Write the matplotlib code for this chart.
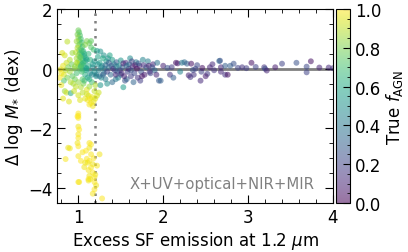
import numpy as np
import matplotlib
matplotlib.use("Agg")
import matplotlib.pyplot as plt
from matplotlib.ticker import MultipleLocator

# ---- data ----
tail_x = [1.00,1.00,1.00,1.00,1.01,1.00,1.00,0.99,1.00,1.00,0.88,0.90,0.85,1.03,1.07,1.13,1.15,1.13,1.15,1.13,1.17,1.15,1.17,1.13,1.19,1.19,1.21,1.17,1.28,1.25,1.01,1.10,1.08,1.12,1.18,1.20,1.05,1.09,1.14,1.22,1.19,1.11,1.00,1.12,1.12]
tail_y = [-1.50,-1.58,-1.65,-1.94,-2.04,-2.20,-2.32,-2.49,-2.60,-2.93,-2.65,-2.67,-3.03,-3.09,-3.30,-2.49,-2.54,-2.65,-2.87,-3.09,-3.20,-3.31,-3.48,-3.59,-3.64,-3.80,-3.91,-4.19,-4.35,-2.87,-3.80,-3.02,-3.15,-3.40,-3.00,-3.55,-2.80,-2.75,-3.70,-3.25,-4.05,-3.15,-3.80,-3.70,-3.75]
tail_f = [1.00,0.99,1.00,0.98,1.00,0.99,1.00,0.98,1.00,0.99,0.97,0.98,0.99,1.00,0.98,0.99,1.00,0.98,0.99,1.00,0.98,0.99,1.00,0.98,0.99,1.00,0.98,0.99,1.00,0.98,0.99,1.00,0.98,0.99,1.00,0.98,0.99,1.00,0.98,0.99,1.00,0.98,0.99,1.00,0.98]

spike_x = [1.00,1.01,0.99,1.02,1.00,1.03,1.01,0.98,1.04,1.02,1.00,1.05,0.99,1.03,1.01,1.06,0.97,1.02,1.04,1.00,1.07,1.03,0.98,1.05,1.01,1.08,1.02,0.99,1.04,1.06,1.00,1.03,1.09,1.01,1.05,0.98,1.07,1.02,1.10,1.04]
spike_y = [1.29,1.22,1.15,1.12,1.05,1.00,0.95,0.92,0.88,0.83,0.78,0.74,0.70,0.66,0.62,0.58,0.55,0.52,0.48,0.45,0.42,0.38,0.35,0.32,0.28,0.25,0.22,0.18,0.15,0.12,0.09,0.06,0.03,0.00,-0.03,0.20,0.50,0.40,0.30,0.60]
spike_f = [0.78,0.74,0.80,0.72,0.83,0.70,0.77,0.85,0.68,0.75,0.82,0.66,0.88,0.73,0.79,0.64,0.90,0.71,0.67,0.84,0.62,0.76,0.87,0.69,0.81,0.60,0.74,0.86,0.65,0.63,0.80,0.72,0.58,0.77,0.66,0.89,0.61,0.75,0.56,0.70]

core_x = [0.81,0.87,0.84,0.93,0.90,0.86,0.82,0.79,0.85,0.88,0.92,0.95,0.90,0.83,0.87,0.83,0.80,0.84,0.86,0.91,0.89,0.82,0.78,0.80,0.93,0.96,0.98,1.00,1.03,1.00,0.97,0.94,1.05,1.08,1.06,1.10,1.12,1.14,1.16,1.11,1.15,1.18,1.20,1.13,1.17,1.10,1.08,1.22,1.24,1.05,1.02,1.19,1.13,1.16,1.20,1.09,1.12,1.13,1.15,1.18,1.10,1.15,1.08,1.12,1.14,1.17,1.19,1.21,1.03,1.06,0.99,0.95,1.11,1.14,1.17,1.07,1.10,1.13,1.16,1.19,1.09,1.04,0.96,0.91]
core_y = [0.53,0.91,0.45,0.53,0.30,0.20,0.10,-0.02,-0.05,0.05,0.15,0.00,-0.10,-0.20,-0.30,-0.40,-0.55,-0.75,-0.80,-0.82,-1.10,-1.00,-0.30,-0.15,-0.25,-0.35,-0.15,-0.45,-0.62,-0.89,-0.60,-0.50,-0.35,-0.20,-0.50,-0.70,-0.90,-1.00,-0.95,-1.05,-1.15,-1.10,-1.00,-1.20,-1.25,-0.85,-1.00,-0.90,-0.80,-0.80,-1.05,-0.75,-0.60,-0.45,-0.55,-0.05,0.10,0.86,0.72,0.64,0.93,0.93,0.80,0.50,0.30,0.15,-0.10,-0.25,0.10,0.20,-1.60,-0.75,-0.30,-0.15,0.05,-0.40,0.00,-0.35,-0.20,0.25,0.35,-0.10,0.08,-0.45]
core_f = [0.95,0.90,0.93,0.85,0.88,0.92,0.96,0.97,0.90,0.80,0.78,0.82,0.86,0.94,0.80,0.72,0.97,0.85,0.92,0.60,0.95,0.96,0.99,0.98,0.75,0.78,0.70,0.83,0.88,0.93,0.90,0.87,0.74,0.62,0.80,0.95,0.97,0.98,0.96,0.99,0.98,0.97,0.95,0.99,0.98,0.93,0.96,0.94,0.92,0.90,0.95,0.91,0.85,0.70,0.88,0.58,0.60,0.78,0.74,0.70,0.80,0.76,0.82,0.66,0.63,0.55,0.52,0.50,0.72,0.68,1.00,0.92,0.55,0.50,0.48,0.68,0.57,0.62,0.45,0.52,0.60,0.70,0.84,0.88]

mid_x = [1.22,1.26,1.30,1.35,1.25,1.28,1.24,1.30,1.27,1.33,1.36,1.32,1.38,1.40,1.42,1.45,1.48,1.50,1.52,1.46,1.44,1.47,1.50,1.53,1.55,1.56,1.58,1.60,1.62,1.64,1.66,1.68,1.70,1.72,1.74,1.76,1.78,1.80,1.82,1.85,1.88,1.90,1.93,1.95,1.37,1.34,1.40,1.29,1.23,1.26,1.31,1.43,1.57,1.61,1.65,1.69,1.73,1.39,1.54,1.59,1.23,1.27,1.32,1.36,1.41,1.45,1.49,1.53,1.57,1.63,1.67,1.71,1.77,1.83,1.87,1.21,1.25,1.29,1.34,1.44,1.51,1.62,1.75,1.84,1.92]
mid_y = [0.60,0.58,0.45,0.35,0.20,0.10,-0.05,-0.15,-0.30,0.25,0.05,-0.35,-0.20,0.30,0.15,0.22,0.10,0.28,0.05,-0.10,-0.35,-0.30,-0.20,-0.62,-0.40,0.20,-0.10,0.15,-0.25,0.08,-0.15,0.22,-0.30,0.10,-0.10,0.30,-0.20,0.05,0.25,-0.15,0.15,-0.05,0.20,-0.40,0.45,-0.50,-0.45,0.35,0.40,-0.55,0.00,-0.05,-0.35,0.35,-0.45,0.00,-0.40,0.10,-0.25,0.00,0.15,0.05,0.12,0.20,0.00,0.08,-0.05,0.18,0.10,0.25,0.12,0.18,0.12,0.10,0.05,-0.20,-0.25,-0.20,-0.10,-0.20,-0.15,-0.05,-0.25,-0.10,-0.20]
mid_f = [0.55,0.52,0.50,0.48,0.56,0.50,0.45,0.42,0.48,0.55,0.38,0.40,0.35,0.55,0.45,0.30,0.50,0.52,0.28,0.32,0.40,0.45,0.30,0.55,0.25,0.15,0.20,0.35,0.18,0.12,0.22,0.40,0.15,0.10,0.25,0.45,0.08,0.30,0.42,0.20,0.12,0.35,0.38,0.28,0.58,0.50,0.35,0.60,0.58,0.52,0.40,0.25,0.30,0.48,0.32,0.05,0.18,0.30,0.10,0.08,0.50,0.45,0.35,0.28,0.15,0.40,0.22,0.10,0.35,0.20,0.05,0.28,0.15,0.08,0.25,0.42,0.38,0.30,0.20,0.12,0.10,0.25,0.05,0.15,0.10]

flat_x = [2.00,2.05,2.08,2.12,2.15,2.17,2.20,2.22,2.25,2.28,2.30,2.32,2.33,2.35,2.38,2.44,2.45,2.46,2.52,2.55,2.60,2.66,2.67,2.68,2.68,2.73,2.73,2.76,2.79,2.83,2.88,2.93,2.98,3.04,3.09,3.19,3.20,3.22,3.32,3.40,3.57,3.69,3.69,3.74,3.84,3.95,4.00,2.10,2.40,2.50,2.58,1.97,2.36]
flat_y = [0.10,0.03,-0.20,-0.30,0.20,0.18,-0.10,0.20,0.22,0.17,-0.22,-0.28,0.17,-0.04,0.00,-0.40,-0.10,0.03,-0.17,0.05,-0.05,0.26,0.27,0.05,-0.10,0.10,-0.20,-0.20,0.10,0.17,0.03,0.05,0.02,0.20,0.06,0.05,0.00,-0.06,0.05,0.17,0.20,0.07,-0.12,0.25,0.04,0.04,0.02,0.05,0.12,-0.25,0.15,-0.40,-0.20]
flat_f = [0.10,0.25,0.15,0.30,0.05,0.08,0.45,0.40,0.35,0.30,0.10,0.15,0.05,0.25,0.20,0.12,0.20,0.05,0.18,0.10,0.15,0.35,0.25,0.10,0.12,0.30,0.15,0.05,0.30,0.25,0.20,0.15,0.18,0.05,0.20,0.15,0.25,0.10,0.08,0.20,0.25,0.22,0.20,0.05,0.10,0.12,0.15,0.18,0.22,0.08,0.12,0.30,0.15]

x_vals = np.array(tail_x + spike_x + core_x + mid_x + flat_x)
y_vals = np.array(tail_y + spike_y + core_y + mid_y + flat_y)
f_vals = np.array(tail_f + spike_f + core_f + mid_f + flat_f)

fig = plt.figure(figsize=(4.08, 2.53), dpi=100)
ax = fig.add_axes([0.14, 0.194, 0.676, 0.766])
cax = fig.add_axes([0.824, 0.194, 0.034, 0.766])

ax.axhline(0, color="gray", lw=2, zorder=1)
ax.axvline(1.2, color="gray", lw=1.8, ls=(0, (1, 2)), zorder=1)
sc = ax.scatter(x_vals, y_vals, c=f_vals, cmap="viridis", vmin=0, vmax=1,
                s=18, alpha=0.55, edgecolors="none", zorder=2)

ax.set_xlim(0.75, 4.0)
ax.set_ylim(-4.5, 2.0)
ax.xaxis.set_major_locator(MultipleLocator(1))
ax.xaxis.set_minor_locator(MultipleLocator(0.2))
ax.yaxis.set_major_locator(MultipleLocator(2))
ax.yaxis.set_minor_locator(MultipleLocator(0.5))
ax.tick_params(which="both", direction="in", top=True, right=True, labelsize=12)
ax.tick_params(which="major", length=6)
ax.tick_params(which="minor", length=3)
ax.set_xlabel(r"Excess SF emission at 1.2 $\mu$m", fontsize=12, labelpad=2)
ax.set_ylabel(r"$\Delta$ log $M_{*}$ (dex)", fontsize=12, labelpad=2)
ax.text(0.935, 0.098, "X+UV+optical+NIR+MIR", transform=ax.transAxes,
        ha="right", va="center", color="gray", fontsize=10.7)

cb = fig.colorbar(sc, cax=cax)
cb.set_ticks([0.0, 0.2, 0.4, 0.6, 0.8, 1.0])
cb.ax.yaxis.set_minor_locator(MultipleLocator(0.05))
cb.ax.tick_params(which="both", direction="in", labelsize=12)
cb.ax.tick_params(which="major", length=5)
cb.ax.tick_params(which="minor", length=2.5)
cb.set_label(r"True $f_{\rm AGN}$", fontsize=12, labelpad=2)

fig.savefig("out.png", dpi=100)
